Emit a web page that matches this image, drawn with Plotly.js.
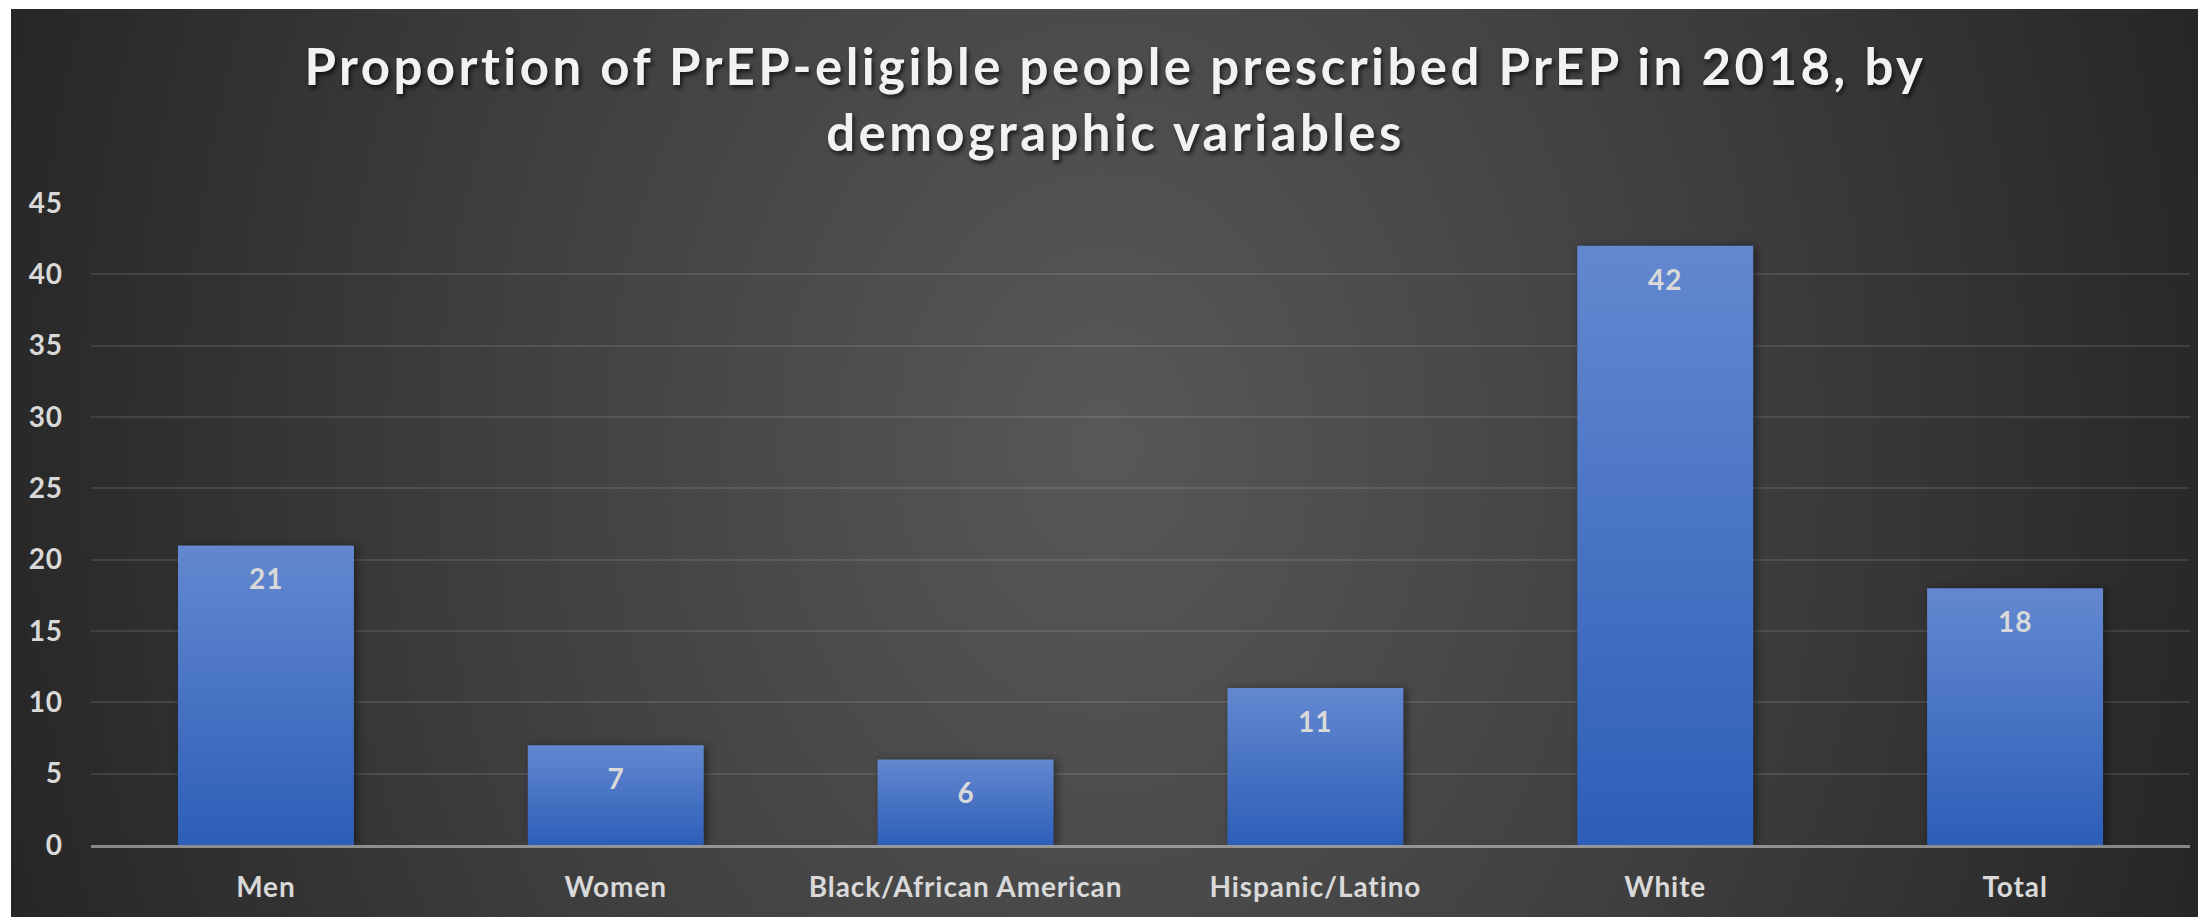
<!DOCTYPE html>
<html>
<head>
<meta charset="utf-8">
<script src="https://cdn.plot.ly/plotly-3.0.1.min.js"></script>
<style>
  html, body { margin: 0; padding: 0; background: #ffffff; width: 2198px; height: 917px; overflow: hidden; }
  #bg { position: absolute; left: 11px; top: 9px; width: 2187px; height: 908px;
        background: radial-gradient(ellipse 1150px 1500px at 50% 48%, #585858 0%, #3e3e3e 55%, #262626 100%); }
  #chart { position: absolute; left: 0; top: 0; width: 2198px; height: 917px; }
  #chart .bars path { filter: drop-shadow(3px 1px 4px rgba(0,0,0,0.45)); }
  #chart .gtitle { letter-spacing: 3.4px; font-variant-ligatures: none; }
  #chart .xtick text, #chart .ytick text, #chart .annotation-text { letter-spacing: 0.9px; font-variant-ligatures: none; }
</style>
</head>
<body>
<div id="bg"></div>
<div id="chart"></div>
<script>
// ---- data ----
const categories = ['Men', 'Women', 'Black/African American', 'Hispanic/Latino', 'White', 'Total'];
const values = [21, 7, 6, 11, 42, 18];
const yTickValues = [0, 5, 10, 15, 20, 25, 30, 35, 40, 45];
const yTickLabels = ['0', '5', '10', '15', '20', '25', '30', '35', '40', '45'];
const titleText = 'Proportion of PrEP-eligible people prescribed PrEP in 2018, by<br>demographic variables';

const labelFont = { family: 'Lato, "Open Sans", sans-serif', size: 28, color: '#d9d9d9', weight: 700 };

const trace = {
  type: 'bar',
  x: categories,
  y: values,
  marker: { color: '#4a74c8', line: { width: 0 } },
  hoverinfo: 'x+y',
  cliponaxis: false
};

const annotations = categories.map((c, i) => ({
  x: c, y: values[i], xref: 'x', yref: 'y',
  text: String(values[i]),
  showarrow: false, yanchor: 'middle', yshift: -33,
  font: labelFont
}));

const layout = {
  width: 2198, height: 917,
  paper_bgcolor: 'rgba(0,0,0,0)',
  plot_bgcolor: 'rgba(0,0,0,0)',
  margin: { l: 91, r: 8, t: 203, b: 72, pad: 0 },
  showlegend: false,
  bargap: 0.497,
  title: {
    text: titleText,
    xref: 'container', x: 0.5075, xanchor: 'center',
    yref: 'container', y: 1 - 85 / 917, yanchor: 'middle',
    font: { family: 'Lato, "Open Sans", sans-serif', size: 51, color: '#f2f2f2', weight: 700,
            shadow: '2px 3px 4px rgba(0,0,0,0.65)' }
  },
  xaxis: {
    type: 'category',
    showgrid: false,
    zeroline: false,
    showline: true,
    linecolor: 'rgba(215,215,215,0.55)',
    linewidth: 3,
    ticks: '',
    tickfont: labelFont,
    ticklabelstandoff: 15,
    fixedrange: true
  },
  yaxis: {
    range: [0, 45],
    tickmode: 'array',
    tickvals: yTickValues,
    ticktext: yTickLabels,
    showgrid: true,
    gridcolor: 'rgba(255,255,255,0.10)',
    gridwidth: 2,
    zeroline: false,
    showline: false,
    ticks: '',
    tickfont: labelFont,
    ticklabelstandoff: 27,
    fixedrange: true
  },
  annotations: annotations
};

Plotly.newPlot('chart', [trace], layout, { displayModeBar: false, staticPlot: true }).then(gd => {
  const svg = gd.querySelector('svg.main-svg');
  const ns = 'http://www.w3.org/2000/svg';
  let defs = svg.querySelector('defs');
  if (!defs) { defs = document.createElementNS(ns, 'defs'); svg.insertBefore(defs, svg.firstChild); }
  const lg = document.createElementNS(ns, 'linearGradient');
  lg.setAttribute('id', 'barGrad');
  lg.setAttribute('x1', '0'); lg.setAttribute('y1', '0');
  lg.setAttribute('x2', '0'); lg.setAttribute('y2', '1');
  [['0%', '#6388d0'], ['100%', '#2d5eb8']].forEach(([o, c]) => {
    const s = document.createElementNS(ns, 'stop');
    s.setAttribute('offset', o); s.setAttribute('stop-color', c);
    lg.appendChild(s);
  });
  defs.appendChild(lg);
  gd.querySelectorAll('.bars .point path').forEach(p => { p.style.fill = 'url(#barGrad)'; });
});
</script>
</body>
</html>
